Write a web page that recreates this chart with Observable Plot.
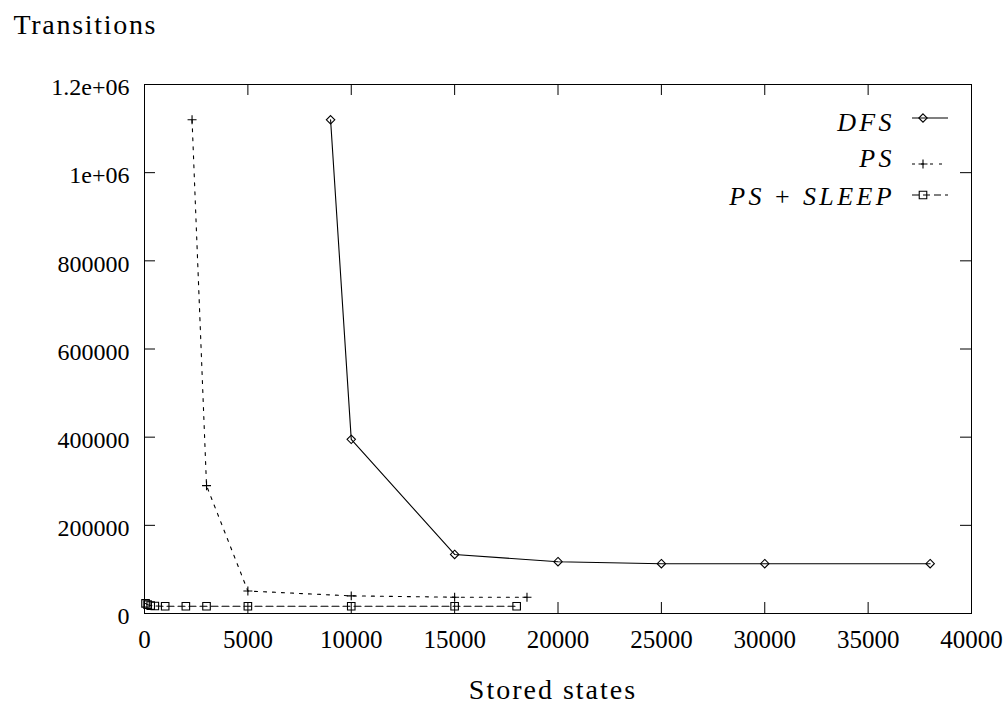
<!DOCTYPE html>
<html><head><meta charset="utf-8">
<script src="https://cdn.jsdelivr.net/npm/d3@7"></script>
<script src="https://cdn.jsdelivr.net/npm/@observablehq/plot@0.6"></script>
<style>
body{margin:0;background:#fff;}
svg text, svg tspan { font-family: "Liberation Serif", "Times New Roman", serif !important; font-variant: normal !important; }
</style>
</head><body><div id="chart"></div>
<script>
const dfsX = [9000, 10000, 15000, 20000, 25000, 30000, 38000];
const dfsY = [1120000, 395000, 134000, 117500, 113000, 113000, 113000];
const psX = [2300, 3000, 5000, 10000, 15000, 18500];
const psY = [1120000, 290000, 51000, 40000, 37000, 37000];
const sleepX = [50, 150, 300, 500, 1000, 2000, 3000, 5000, 10000, 15000, 18000];
const sleepY = [23000, 20000, 18000, 17000, 16500, 16500, 16500, 16500, 16500, 16500, 16500];
const xTicks = [0, 5000, 10000, 15000, 20000, 25000, 30000, 35000, 40000];
const xTickLabels = ["0", "5000", "10000", "15000", "20000", "25000", "30000", "35000", "40000"];
const yTicks = [0, 200000, 400000, 600000, 800000, 1000000, 1200000];
const yTickLabels = ["0", "200000", "400000", "600000", "800000", "1e+06", "1.2e+06"];
const seriesNames = ["DFS", "PS", "PS + SLEEP"];
const yTitle = "Transitions";
const xTitle = "Stored states";

const zip = (xs, ys) => xs.map((x, i) => ({x, y: ys[i]}));
const dfs = zip(dfsX, dfsY), ps = zip(psX, psY), sleep = zip(sleepX, sleepY);

const W = 1007, H = 708, mL = 144, mR = 36, mT = 84, mB = 95;
const fw = W - mL - mR, fh = H - mT - mB, tl = 11;
const sw = 1.1;
const FONT = "Liberation Serif, Times New Roman, serif";

const svg = Plot.plot({
  width: W, height: H,
  marginLeft: mL, marginRight: mR, marginTop: mT, marginBottom: mB,
  x: {domain: [0, 40000]},
  y: {domain: [0, 1200000]},
  style: {fontFamily: FONT, fontSize: "24px", color: "black", background: "white"},
  marks: [
    Plot.frame({stroke: "black", strokeWidth: 1}),
    Plot.tickX(xTicks, {x: d => d, insetTop: fh - tl, stroke: "black", strokeWidth: 1}),
    Plot.tickX(xTicks, {x: d => d, insetBottom: fh - tl, stroke: "black", strokeWidth: 1}),
    Plot.tickY(yTicks, {y: d => d, insetRight: fw - tl, stroke: "black", strokeWidth: 1}),
    Plot.tickY(yTicks, {y: d => d, insetLeft: fw - tl, stroke: "black", strokeWidth: 1}),
    Plot.axisY(yTicks, {tickSize: 0, tickPadding: 15, label: null, fontSize: 24, dy: 3,
      tickFormat: d => yTickLabels[yTicks.indexOf(d)]}),
    Plot.axisX(xTicks, {tickSize: 0, tickPadding: 17, label: null, fontSize: 25,
      tickFormat: d => xTickLabels[xTicks.indexOf(d)]}),
    Plot.text([yTitle], {text: d => d, frameAnchor: "top-left", lineAnchor: "middle", dx: -131, dy: -59, textAnchor: "start", fontSize: 28}),
    Plot.text([xTitle], {text: d => d, frameAnchor: "bottom", lineAnchor: "middle", dx: -5, dy: 77, fontSize: 28}),
    Plot.line(dfs, {x: "x", y: "y", stroke: "black", strokeWidth: sw}),
    Plot.line(ps, {x: "x", y: "y", stroke: "black", strokeWidth: sw, strokeDasharray: "3,6"}),
    Plot.line(sleep, {x: "x", y: "y", stroke: "black", strokeWidth: sw, strokeDasharray: "7,4"}),
    Plot.dot(dfs, {x: "x", y: "y", symbol: "diamond2", r: 3.8, stroke: "black", strokeWidth: sw, fill: "none"}),
    Plot.dot(ps, {x: "x", y: "y", symbol: "plus", r: 3.0, stroke: "black", strokeWidth: sw, fill: "none"}),
    Plot.dot(sleep, {x: "x", y: "y", symbol: "square2", r: 4.8, stroke: "black", strokeWidth: sw, fill: "none"})
  ]
});

const s = d3.select(svg);
s.selectAll("text").filter(function() { return this.textContent === yTitle; }).attr("letter-spacing", "1.7px");
s.selectAll("text").filter(function() { return this.textContent === xTitle; }).attr("letter-spacing", "2px");

// legend
const rows = [
  {name: seriesNames[0], base: 131, sy: 118, sym: d3.symbolDiamond2, r: 3.8, dash: null},
  {name: seriesNames[1], base: 167, sy: 164, sym: d3.symbolPlus, r: 3.0, dash: "3,6"},
  {name: seriesNames[2], base: 205, sy: 195, sym: d3.symbolSquare2, r: 4.8, dash: "7,4"}
];
const lg = s.append("g").attr("font-size", 26);
rows.forEach(row => {
  const t = lg.append("text").attr("x", 895).attr("y", row.base).attr("text-anchor", "end")
    .attr("letter-spacing", "3.4px").attr("fill", "black");
  const parts = row.name.split(" + ");
  parts.forEach((p, i) => {
    if (i > 0) t.append("tspan").attr("font-style", "normal").text(" + ");
    t.append("tspan").attr("font-style", "italic").text(p);
  });
  lg.append("line").attr("x1", 912).attr("x2", 948).attr("y1", row.sy).attr("y2", row.sy)
    .attr("stroke", "black").attr("stroke-width", sw).attr("stroke-dasharray", row.dash);
  lg.append("path").attr("transform", `translate(923,${row.sy})`)
    .attr("d", d3.symbol(row.sym, Math.PI * row.r * row.r)())
    .attr("fill", "none").attr("stroke", "black").attr("stroke-width", sw);
});

document.getElementById("chart").appendChild(svg);
</script>
</body></html>
